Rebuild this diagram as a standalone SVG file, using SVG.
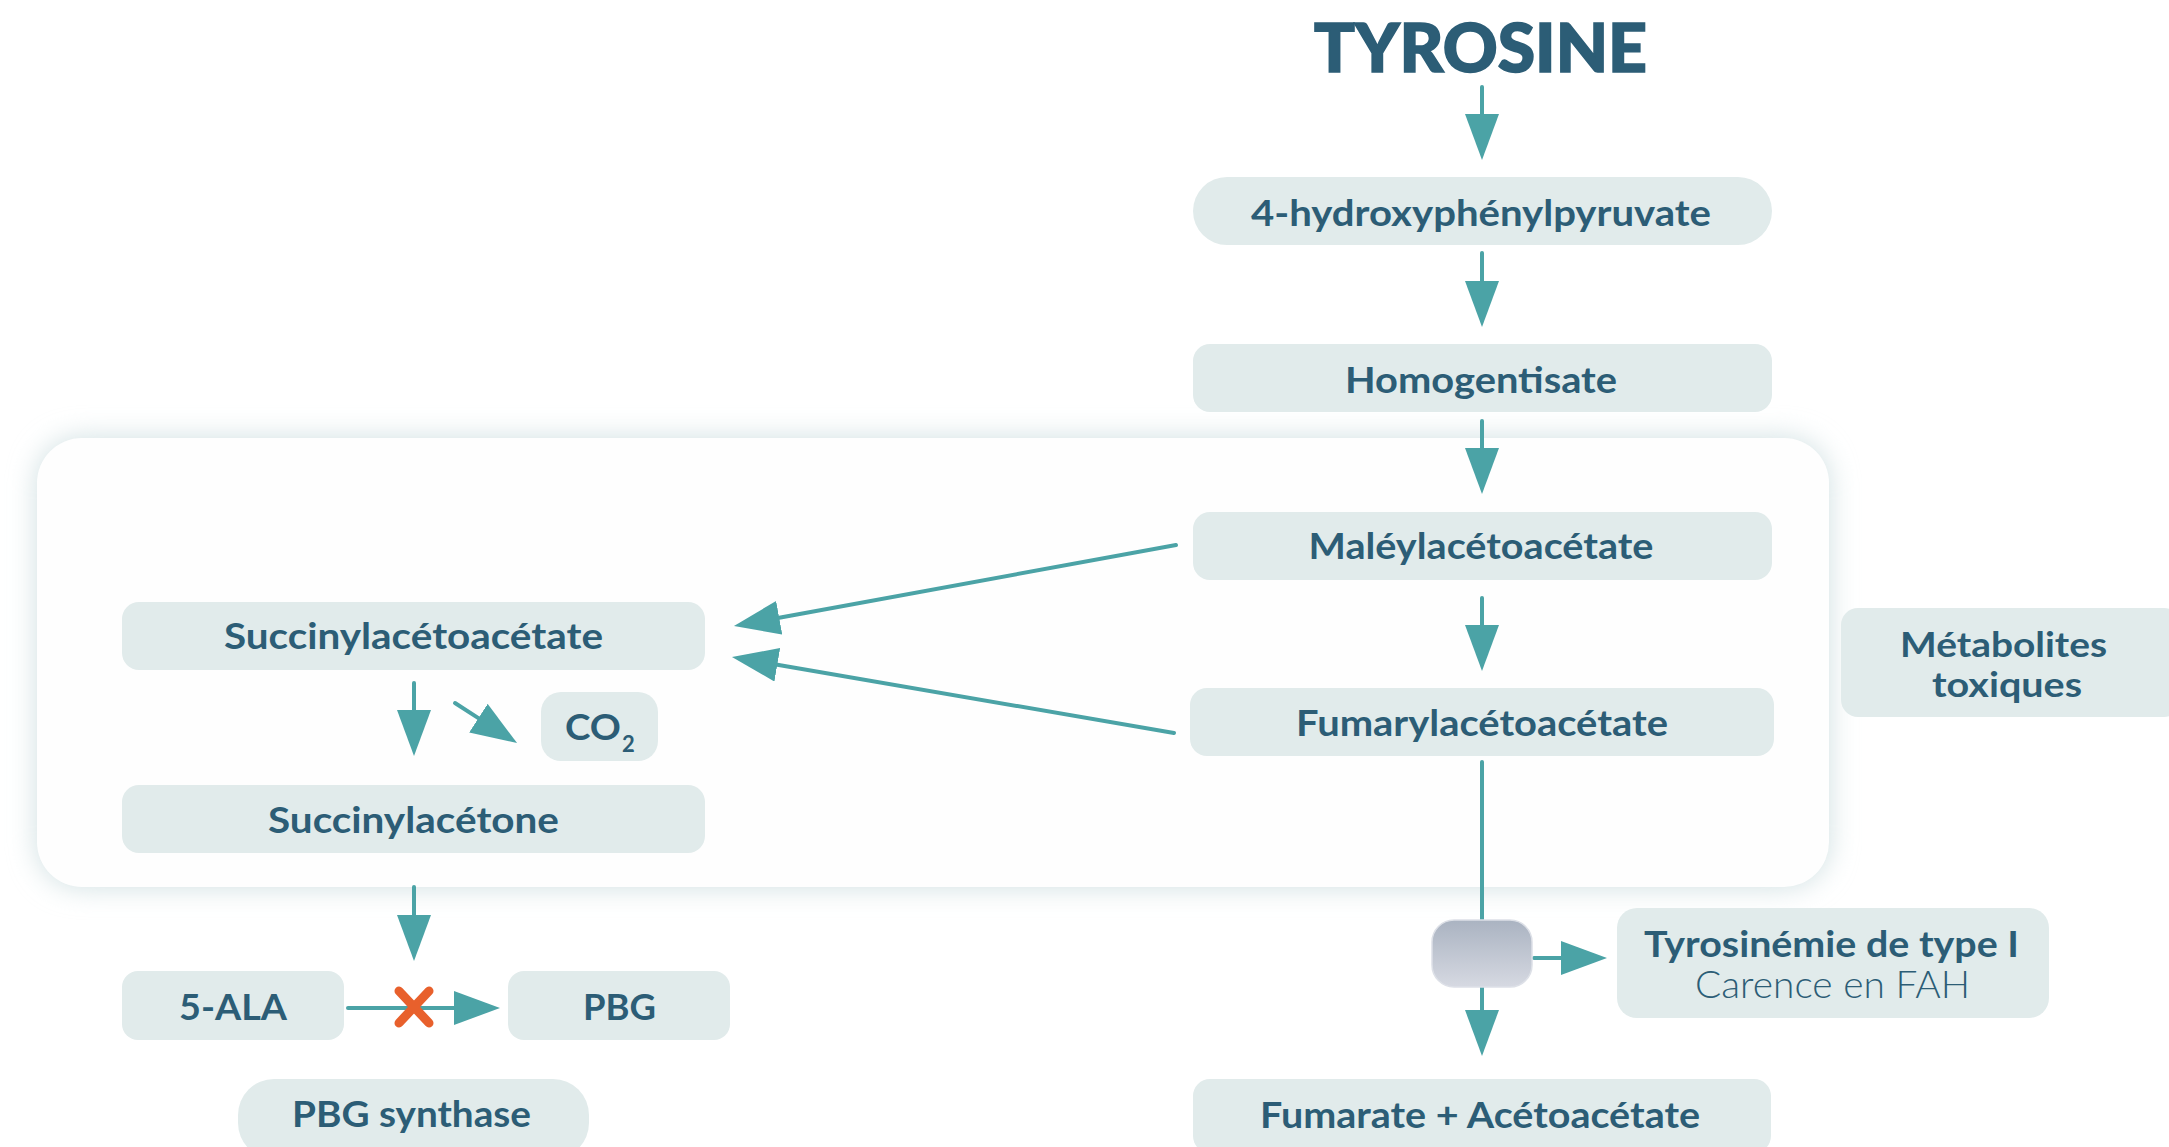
<svg xmlns="http://www.w3.org/2000/svg" width="2169" height="1147" viewBox="0 0 2169 1147">
<style>
.box{fill:#e1ebeb}
.t{font-family:Lato,"Liberation Sans",sans-serif;font-weight:700;font-size:37px;fill:#2c5d76;text-anchor:middle}
.light{font-weight:300}
.ln{stroke:#4ba3a6;stroke-width:4;stroke-linecap:round;fill:none}
.arr{marker-end:url(#ah)}
</style>
<defs>
<marker id="ah" markerUnits="userSpaceOnUse" markerWidth="46" markerHeight="34" viewBox="0 0 46 34" refX="0" refY="17" orient="auto">
<path d="M0,0 L46,17 L0,34 Z" fill="#4ba3a6"/>
</marker>
<filter id="glow" x="-10%" y="-20%" width="120%" height="140%">
<feGaussianBlur stdDeviation="14"/>
</filter>
<linearGradient id="gg" x1="0" y1="0" x2="0" y2="1">
<stop offset="0" stop-color="#aab3c1"/>
<stop offset="1" stop-color="#d6d9e2"/>
</linearGradient>
</defs>
<rect width="2169" height="1147" fill="#ffffff"/>

<g id="panel">
<rect x="37" y="438" width="1792" height="449" rx="45" fill="#cfdfe1" filter="url(#glow)"/>
<rect x="37" y="438" width="1792" height="449" rx="45" fill="#fefefe"/>
</g>

<g id="connectors">
<line class="ln arr" x1="1482" y1="87" x2="1482" y2="114"/>
<line class="ln arr" x1="1482" y1="253" x2="1482" y2="281"/>
<line class="ln arr" x1="1482" y1="421" x2="1482" y2="448"/>
<line class="ln arr" x1="1482" y1="598" x2="1482" y2="625"/>
<line class="ln" x1="1482" y1="762" x2="1482" y2="921"/>
<line class="ln arr" x1="1482" y1="987" x2="1482" y2="1010"/>
<line class="ln arr" x1="1534" y1="958" x2="1561" y2="958"/>
<line class="ln arr" x1="1176" y1="545" x2="779.2" y2="617.7"/>
<line class="ln arr" x1="1174" y1="733" x2="777.3" y2="664.8"/>
<line class="ln arr" x1="414" y1="683" x2="414" y2="710"/>
<line class="ln arr" x1="455" y1="703" x2="478.4" y2="718.1"/>
<line class="ln arr" x1="414" y1="887" x2="414" y2="915"/>
<line class="ln arr" x1="348" y1="1008" x2="454" y2="1008"/>
<g id="block" stroke="#e8602c" stroke-width="9" stroke-linecap="round">
<line x1="399" y1="991" x2="429" y2="1023"/>
<line x1="429" y1="991" x2="399" y2="1023"/>
</g>
</g>

<g id="tyrosine">
<text class="t" x="1480.5" y="72" textLength="333" lengthAdjust="spacingAndGlyphs" style="font-size:66px;font-weight:900;stroke:#2c5d76;stroke-width:1.6">TYROSINE</text>
</g>
<g id="hpp">
<rect class="box" x="1193" y="177" width="579" height="68" rx="34"/>
<text class="t" x="1481" y="226" textLength="460" lengthAdjust="spacingAndGlyphs">4-hydroxyphénylpyruvate</text>
</g>
<g id="homogentisate">
<rect class="box" x="1193" y="344" width="579" height="68" rx="17"/>
<text class="t" x="1481" y="393" textLength="272" lengthAdjust="spacingAndGlyphs">Homogentisate</text>
</g>
<g id="maleyl">
<rect class="box" x="1193" y="512" width="579" height="68" rx="17"/>
<text class="t" x="1481" y="559" textLength="345" lengthAdjust="spacingAndGlyphs">Maléylacétoacétate</text>
</g>
<g id="fumaryl">
<rect class="box" x="1190" y="688" width="584" height="68" rx="17"/>
<text class="t" x="1482" y="736" textLength="372" lengthAdjust="spacingAndGlyphs">Fumarylacétoacétate</text>
</g>
<g id="fah">
<rect x="1432" y="920" width="100" height="67" rx="22" fill="url(#gg)" stroke="#dde0e7" stroke-width="1.5"/>
</g>
<g id="fumarate">
<rect class="box" x="1193" y="1079" width="578" height="74" rx="17"/>
<text class="t" x="1480" y="1128" textLength="440" lengthAdjust="spacingAndGlyphs">Fumarate + Acétoacétate</text>
</g>
<g id="tyrosinemie">
<rect class="box" x="1617" y="908" width="432" height="110" rx="20"/>
<text class="t" x="1831.5" y="957" textLength="375" lengthAdjust="spacingAndGlyphs">Tyrosinémie de type I</text>
<text class="t light" x="1832.5" y="998" textLength="275" lengthAdjust="spacingAndGlyphs">Carence en FAH</text>
</g>
<g id="metabolites">
<rect class="box" x="1841" y="608" width="340" height="109" rx="17"/>
<text class="t" x="2003.5" y="657" textLength="207" lengthAdjust="spacingAndGlyphs" style="font-size:34px">Métabolites</text>
<text class="t" x="2007" y="697" textLength="150" lengthAdjust="spacingAndGlyphs" style="font-size:34px">toxiques</text>
</g>
<g id="succinylacetoacetate">
<rect class="box" x="122" y="602" width="583" height="68" rx="17"/>
<text class="t" x="413.5" y="649" textLength="379" lengthAdjust="spacingAndGlyphs">Succinylacétoacétate</text>
</g>
<g id="co2">
<rect class="box" x="541" y="692" width="117" height="69" rx="20"/>
<text class="t" x="565" y="740" style="text-anchor:start" textLength="56" lengthAdjust="spacingAndGlyphs">CO</text>
<text class="t" x="622" y="752" style="text-anchor:start;font-size:22px">2</text>
</g>
<g id="succinylacetone">
<rect class="box" x="122" y="785" width="583" height="68" rx="17"/>
<text class="t" x="413.5" y="833" textLength="291" lengthAdjust="spacingAndGlyphs">Succinylacétone</text>
</g>
<g id="ala">
<rect class="box" x="122" y="971" width="222" height="69" rx="16"/>
<text class="t" x="233" y="1020" textLength="108" lengthAdjust="spacingAndGlyphs">5-ALA</text>
</g>
<g id="pbg">
<rect class="box" x="508" y="971" width="222" height="69" rx="16"/>
<text class="t" x="619.5" y="1020" textLength="73" lengthAdjust="spacingAndGlyphs">PBG</text>
</g>
<g id="pbgsynthase">
<rect class="box" x="238" y="1079" width="351" height="80" rx="36"/>
<text class="t" x="411.5" y="1127" textLength="239" lengthAdjust="spacingAndGlyphs">PBG synthase</text>
</g>
</svg>
